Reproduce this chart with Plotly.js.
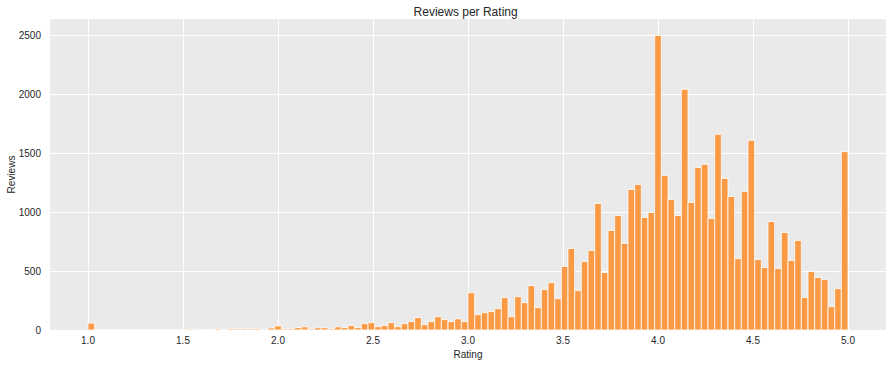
<!DOCTYPE html>
<html>
<head>
<meta charset="utf-8">
<script src="https://cdn.plot.ly/plotly-3.0.1.min.js"></script>
<style>html,body{margin:0;padding:0;background:#fff;}#chart{width:892px;height:366px;}</style>
</head>
<body>
<div id="chart"></div>
<script>
// Histogram of ratings: 114 equal bins between binStart and binEnd
const binStart = 1.0;
const binEnd = 5.0;
const counts = [
  59, 0, 0, 2, 0, 0, 0, 2, 0, 2,
  0, 2, 2, 2, 0, 8, 0, 3, 3, 9,
  1, 9, 9, 9, 9, 9, 1, 17, 35, 9,
  9, 20, 27, 9, 19, 19, 9, 27, 20, 37,
  20, 54, 62, 28, 37, 62, 28, 54, 71, 105,
  45, 71, 113, 88, 71, 95, 71, 317, 130, 147,
  156, 181, 275, 113, 283, 232, 377, 190, 343, 402,
  266, 539, 692, 334, 581, 675, 1074, 488, 845, 972,
  734, 1193, 1236, 955, 998, 2500, 1312, 1108, 972, 2044,
  1083, 1380, 1406, 947, 1661, 1287, 1134, 607, 1176, 1610,
  598, 530, 921, 522, 828, 590, 760, 275, 496, 445,
  428, 198, 351, 1514
];
const xTicks = [1.0, 1.5, 2.0, 2.5, 3.0, 3.5, 4.0, 4.5, 5.0];
const yTicks = [0, 500, 1000, 1500, 2000, 2500];

const binWidth = (binEnd - binStart) / counts.length;
const centers = counts.map((_, k) => binStart + (k + 0.5) * binWidth);

const textColor = '#262626';
const fontFam = 'Liberation Sans, Arial, sans-serif';

Plotly.newPlot('chart', [{
  type: 'bar',
  x: centers,
  y: counts,
  width: binWidth,
  marker: {color: 'rgb(250,154,69)', line: {color: '#ffffff', width: 0.8}},
  hoverinfo: 'x+y'
}], {
  width: 892, height: 366,
  margin: {l: 50, r: 6, t: 19, b: 36, pad: 0},
  paper_bgcolor: '#ffffff',
  plot_bgcolor: '#eaeaea',
  bargap: 0,
  showlegend: false,
  font: {family: fontFam, size: 10, color: textColor},
  title: {text: 'Reviews per Rating', font: {family: fontFam, size: 12, color: textColor}, x: 0.522, xanchor: 'center', y: 0.967, yanchor: 'middle'},
  xaxis: {
    range: [0.8, 5.2],
    tickvals: xTicks,
    ticktext: xTicks.map(v => v.toFixed(1)),
    showgrid: true, gridcolor: '#ffffff', gridwidth: 1,
    zeroline: false, showline: false, ticks: '',
    ticklabelstandoff: 3,
    tickfont: {size: 10, color: textColor},
    title: {text: 'Rating', font: {size: 10, color: textColor}, standoff: 5}
  },
  yaxis: {
    range: [0, 2640],
    tickvals: yTicks,
    showgrid: true, gridcolor: '#ffffff', gridwidth: 1,
    zeroline: false, showline: false, ticks: '',
    ticklabelstandoff: 8,
    tickfont: {size: 10, color: textColor},
    title: {text: 'Reviews', font: {size: 10, color: textColor}, standoff: 1}
  }
}, {displayModeBar: false, staticPlot: true});
</script>
</body>
</html>
